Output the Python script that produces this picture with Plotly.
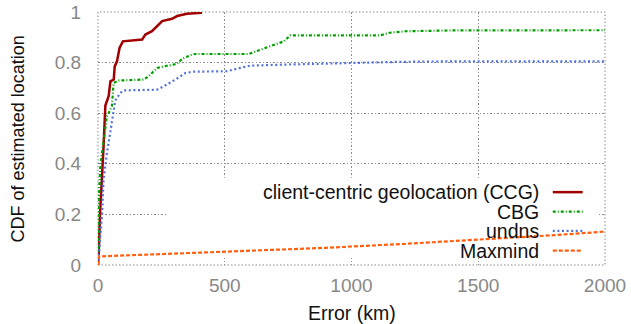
import plotly.graph_objects as go

# ---- data ----
ccg_x = [0, 3, 8, 16, 22, 29, 42, 49, 62, 66, 75, 85, 98, 174, 187, 213, 226, 253, 292, 312, 351, 410]
ccg_y = [0, 0.05, 0.2, 0.34, 0.47, 0.63, 0.667, 0.726, 0.733, 0.785, 0.805, 0.858, 0.884, 0.891, 0.911,
         0.924, 0.937, 0.964, 0.973, 0.984, 0.993, 0.997]

cbg_x = [0, 2, 5, 10, 22, 35, 42, 55, 60, 62, 81, 180, 200, 233, 266, 312, 332, 371, 384, 595, 641, 733,
         759, 1115, 1150, 1213, 1391, 2000]
cbg_y = [0, 0.1, 0.3, 0.4, 0.495, 0.587, 0.6, 0.63, 0.7, 0.72, 0.729, 0.733, 0.746, 0.779, 0.786, 0.795,
         0.815, 0.832, 0.834, 0.834, 0.851, 0.884, 0.908, 0.908, 0.918, 0.924, 0.927, 0.928]

undns_x = [0, 2, 16, 22, 35, 49, 62, 68, 88, 101, 233, 259, 312, 345, 377, 509, 562, 601, 733, 996,
           1193, 1391, 2000]
undns_y = [0, 0.02, 0.2, 0.34, 0.44, 0.535, 0.61, 0.65, 0.68, 0.69, 0.693, 0.706, 0.737, 0.759, 0.764,
           0.766, 0.779, 0.788, 0.792, 0.799, 0.803, 0.805, 0.805]

maxmind_x = [0, 3, 300, 600, 900, 1200, 1500, 1800, 2000]
maxmind_y = [0, 0.034, 0.045, 0.057, 0.068, 0.083, 0.1, 0.118, 0.132]

x_ticks = [0, 500, 1000, 1500, 2000]
y_ticks = [0, 0.2, 0.4, 0.6, 0.8, 1]
y_tick_labels = ["0", "0.2", "0.4", "0.6", "0.8", "1"]

series_names = ["client-centric geolocation (CCG)", "CBG", "undns", "Maxmind"]
colors = ["#a00000", "#00a000", "#5070e0", "#ff6010"]
dashes = ["solid", "3px,2px,1px,2px", "2px,2.6px", "4px,2px"]
widths = [2.5, 2.2, 2.2, 2.2]

series = [(ccg_x, ccg_y), (cbg_x, cbg_y), (undns_x, undns_y), (maxmind_x, maxmind_y)]

FONT = "Liberation Sans, Arial, sans-serif"
FS = 19

fig = go.Figure()
for (xs, ys), name, c, d, w in zip(series, series_names, colors, dashes, widths):
    fig.add_trace(go.Scatter(x=xs, y=ys, mode="lines", name=name,
                             line=dict(color=c, dash=d, width=w), showlegend=False,
                             cliponaxis=False))

grid = "#8c8c8c"
GDASH = "1.5px,2px"
# dotted frame (grid lines at the range edges)
fig.add_shape(type="rect", xref="paper", yref="paper", x0=0, x1=1, y0=0, y1=1,
              line=dict(color=grid, width=1, dash=GDASH), fillcolor="rgba(0,0,0,0)",
              layer="between")
# white legend box that hides the grid but lies under the data
fig.add_shape(type="rect", xref="x", yref="y", x0=274, x1=1975, y0=0.028, y1=0.345,
              fillcolor="white", line=dict(width=0), layer="between")

# manual legend: text right-aligned, sample on the right
leg_y = [0.288, 0.211, 0.135, 0.057]
for name, c, d, w, ly in zip(series_names, colors, dashes, widths, leg_y):
    fig.add_annotation(x=1746, y=ly, xref="x", yref="y", text=name, showarrow=False,
                       xanchor="right", yanchor="middle",
                       font=dict(family=FONT, size=19.5, color="#111"))
    fig.add_shape(type="line", xref="x", yref="y", x0=1794, x1=1912, y0=ly, y1=ly,
                  line=dict(color=c, dash=d, width=w), layer="above")

# axis titles
fig.add_annotation(text="Error (km)", xref="paper", yref="paper", x=0.5, y=-0.19,
                   xanchor="center", yanchor="middle", showarrow=False,
                   font=dict(family=FONT, size=19.5, color="#111"))
fig.add_annotation(text="CDF of estimated location", xref="paper", yref="paper",
                   x=-0.158, y=0.5, xanchor="center", yanchor="middle", textangle=-90,
                   showarrow=False, font=dict(family=FONT, size=18, color="#111"))

fig.update_layout(
    width=631, height=324,
    margin=dict(l=98, r=26, t=12, b=59, autoexpand=False),
    paper_bgcolor="white", plot_bgcolor="white",
    font=dict(family=FONT, size=FS, color="#888"),
    hovermode=False,
)
fig.update_xaxes(range=[0, 2000], tickvals=x_ticks, ticktext=[str(v) for v in x_ticks],
                 showgrid=True, gridcolor=grid, griddash=GDASH, gridwidth=1,
                 zeroline=False, showline=False, ticks="outside", ticklen=3,
                 tickcolor="rgba(0,0,0,0)", automargin=False, ticklabeloverflow="allow",
                 tickfont=dict(size=FS, color="#888"))
fig.update_yaxes(range=[0, 1], tickvals=y_ticks, ticktext=y_tick_labels,
                 showgrid=True, gridcolor=grid, griddash=GDASH, gridwidth=1,
                 zeroline=False, showline=False, ticks="outside", ticklen=12,
                 tickcolor="rgba(0,0,0,0)", automargin=False, ticklabeloverflow="allow",
                 tickfont=dict(size=FS, color="#888"))

fig.write_html("out.html", config={"displayModeBar": False, "staticPlot": True},
               post_script="document.body.style.margin='0';document.body.style.overflow='hidden';")
